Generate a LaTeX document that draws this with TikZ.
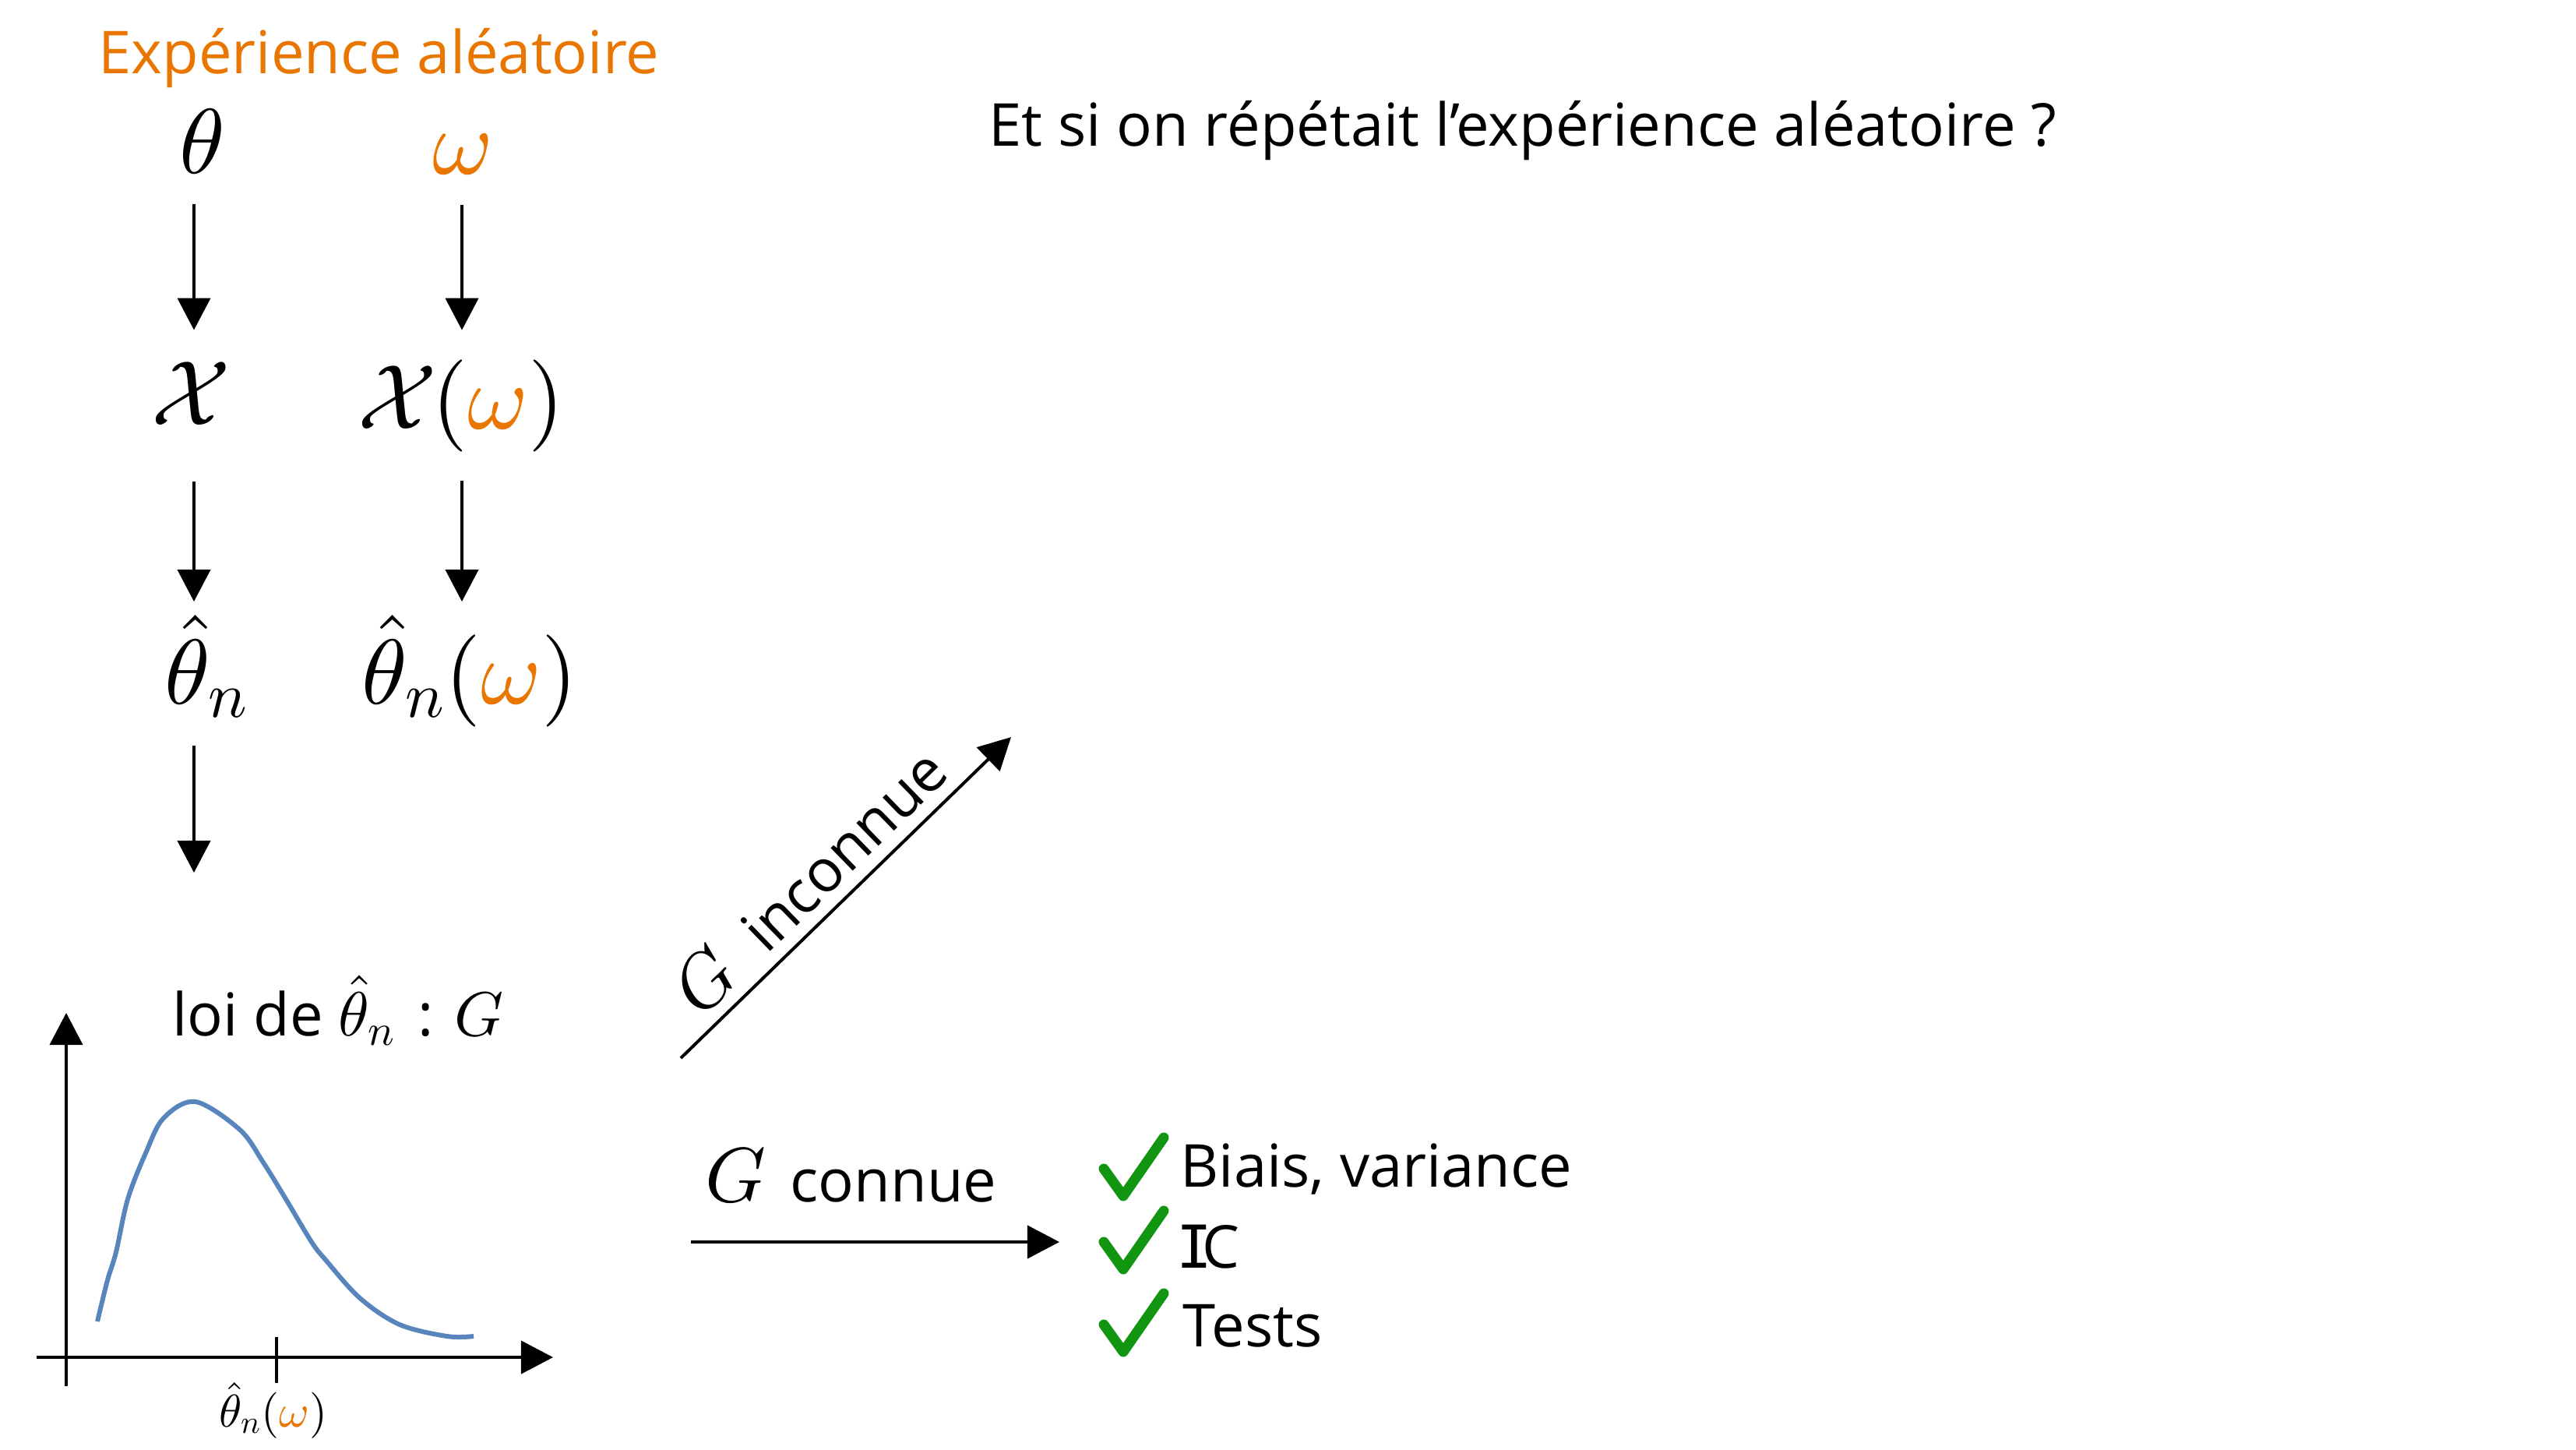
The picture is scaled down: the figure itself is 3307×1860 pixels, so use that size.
\documentclass[tikz,border=0pt]{standalone}
\usepackage[no-math]{fontspec}
\setmainfont{Open Sans}
\newfontfamily\slabI{DejaVu Sans Mono}
% scalable Computer Modern math at any size
\DeclareFontShape{OML}{cmm}{m}{it}{<-> cmmi10}{}
\DeclareFontShape{OMS}{cmsy}{m}{n}{<-> cmsy10}{}
\DeclareFontShape{OT1}{cmr}{m}{n}{<-> cmr10}{}
\DeclareFontShape{OMX}{cmex}{m}{n}{<-> cmex10}{}
\usetikzlibrary{arrows.meta}
\definecolor{expo}{RGB}{233,118,0}
\definecolor{curveblue}{RGB}{88,134,188}
\definecolor{okgreen}{RGB}{18,150,18}

\begin{document}
\begin{tikzpicture}[x=0.01cm,y=-0.01cm,
  txt/.style={font=\fontsize{21.6}{26}\selectfont, inner sep=0pt},
  bigmath/.style={font=\fontsize{33.6}{40}\selectfont, inner sep=0pt, anchor=base},
  arr/.style={line width=0.04cm, -{Triangle[length=0.41cm,width=0.42cm]}},
  axis/.style={line width=0.04cm},
  tickmark/.style={okgreen, line width=0.13cm, line cap=round, line join=round}]
\useasboundingbox (0,0) rectangle (3307,1860);

% headings
\node[txt, anchor=base west, text=expo] (exp) at (126,94) {Expérience aléatoire};
\node[txt, anchor=base west] (title) at (1269,187) {Et si on répétait l’expérience aléatoire ?};

% the two columns of the random experiment
\coordinate (colL) at (249,0);
\coordinate (colR) at (593,0);

\node[bigmath] (theta) at (260,222) {$\theta$};
\node[bigmath] (omega) at (594,223) {${\color{expo}\omega}$};
\node[bigmath] (X) at (245,545) {$\mathcal{X}$};
\node[bigmath] (Xw) at (592,550) {$\mathcal{X}\mkern-1mu({\color{expo}\omega})$};
\node[bigmath] (thn) at (265,903) {$\hat{\theta}_n$};
\node[bigmath] (thnw) at (603,903) {$\hat{\theta}_n({\color{expo}\omega})$};
\coordinate (lawtop) at (249,1120);

\draw[arr, shorten <=0.39cm, shorten >=0.40cm] (theta.south -| colL) -- (X.north -| colL);
\draw[arr, shorten <=0.39cm, shorten >=0.37cm] (omega.south -| colR) -- (Xw.north -| colR);
\draw[arr, shorten <=0.72cm, shorten >=0.17cm] (X.south -| colL) -- (thn.north -| colL);
\draw[arr, shorten <=0.37cm, shorten >=0.17cm] (Xw.south -| colR) -- (thnw.north -| colR);
\draw[arr, shorten <=0.36cm] (thn.south -| colL) -- (lawtop);

% sampling distribution
\node[txt, anchor=base west] (law) at (221,1329)
  {loi de {\fontsize{22.8}{27}\selectfont$\hat{\theta}_n$}\hspace{0.12em} : {\fontsize{22.8}{27}\selectfont$G$}};
\draw[axis, -{Triangle[length=0.41cm,width=0.42cm]}] (47,1742) -- (710,1742);
\draw[axis, -{Triangle[length=0.41cm,width=0.42cm]}] (85,1779) -- (85,1300);
\draw[axis] (355,1716) -- (355,1775);
\node[anchor=base, font=\fontsize{16.8}{20}\selectfont, inner sep=0pt] (tickl) at (351,1831)
  {$\hat{\theta}_n({\color{expo}\omega})$};
\draw[curveblue, line width=0.06cm] plot[smooth, tension=0.55] coordinates {
  (125,1696) (138,1643) (149,1607) (164,1539) (187,1480) (210,1435) (251,1414)
  (308,1450) (338,1492) (367,1539) (400,1594) (418,1617) (462,1666) (513,1700)
  (574,1715) (608,1715)};

% G unknown
\coordinate (gua) at (874,1358);
\coordinate (gub) at (1298,946);
\draw[arr] (gua) -- node[txt, sloped, above=0.15cm, pos=0.47] (gu)
  {{\fontsize{27}{32}\selectfont$G$}\hspace{0.3em} inconnue} (gub);

% G known
\node[txt, anchor=base west] (gk) at (905,1542) {{\fontsize{28.2}{34}\selectfont$G$}\hspace{0.15em} connue};
\coordinate (gka) at (887,1594);
\coordinate (gkb) at (1360,1594);
\draw[arr] (gka) -- (gkb);

% what a known G gives
\coordinate (ck1) at (1442,1535);
\coordinate (ck2) at (1442,1629);
\coordinate (ck3) at (1442,1735);
\foreach \c in {ck1,ck2,ck3}
  \draw[tickmark] (\c) ++(-25,-35) -- (\c) -- ++(52,-75);
\node[txt, anchor=base west] (b1) at (1515,1523) {Biais, variance};
\node[txt, anchor=base west] (b2) at (1510,1627) {{\slabI I}\hspace{-0.17em}C};
\node[txt, anchor=base west] (b3) at (1518,1728) {Tests};
\end{tikzpicture}
\end{document}
